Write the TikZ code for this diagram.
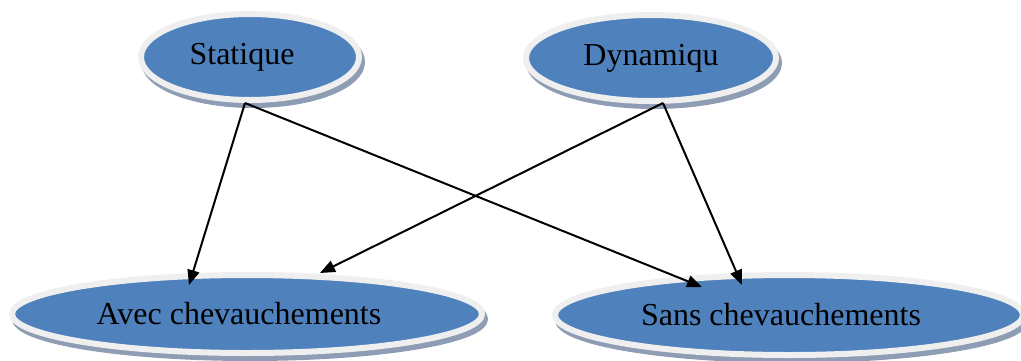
\documentclass[tikz,border=0pt]{standalone}
\usepackage{fontspec}
\setmainfont{Liberation Serif}
\usetikzlibrary{shapes.geometric,arrows.meta}
\definecolor{bubbleblue}{HTML}{4F81BD}
\definecolor{ringgray}{HTML}{EFEFEF}
\definecolor{shadowgray}{HTML}{8E9DB3}
\newcommand{\padright}{\hspace*{16pt}}
\tikzset{
  bubble/.style={ellipse, inner sep=0pt, fill=bubbleblue, draw=ringgray,
    line width=6pt, font=\fontsize{32}{36}\selectfont,
    preaction={fill=shadowgray, draw=shadowgray,
      transform canvas={shift={(3pt,-5pt)}}}},
  link/.style={line width=2pt, -{Triangle[length=15pt,width=12pt]}}
}
\begin{document}
\begin{tikzpicture}[x=1pt,y=-1pt]
  \useasboundingbox (0,0) rectangle (1021,360);
  % top row
  \node[bubble, minimum width=218pt, minimum height=86pt] (stat) at (250,57) {Statique\padright};
  \node[bubble, minimum width=250pt, minimum height=86pt] (dyn) at (651,58) {Dynamiqu};
  % bottom row
  \node[bubble, minimum width=470pt, minimum height=78pt] (avec) at (247,314) {Avec chevauchements\padright};
  \node[bubble, minimum width=468pt, minimum height=80pt] (sans) at (789,315) {Sans chevauchements\padright};
  % connector start and end points
  \coordinate (statout) at (245,103);
  \coordinate (dynout) at (663,103);
  \coordinate (avecinA) at (189,285);
  \coordinate (avecinB) at (320,273);
  \coordinate (sansinA) at (702,287);
  \coordinate (sansinB) at (742,285);
  \draw[link] (statout) -- (avecinA);
  \draw[link] (statout) -- (sansinA);
  \draw[link] (dynout) -- (avecinB);
  \draw[link] (dynout) -- (sansinB);
\end{tikzpicture}
\end{document}
